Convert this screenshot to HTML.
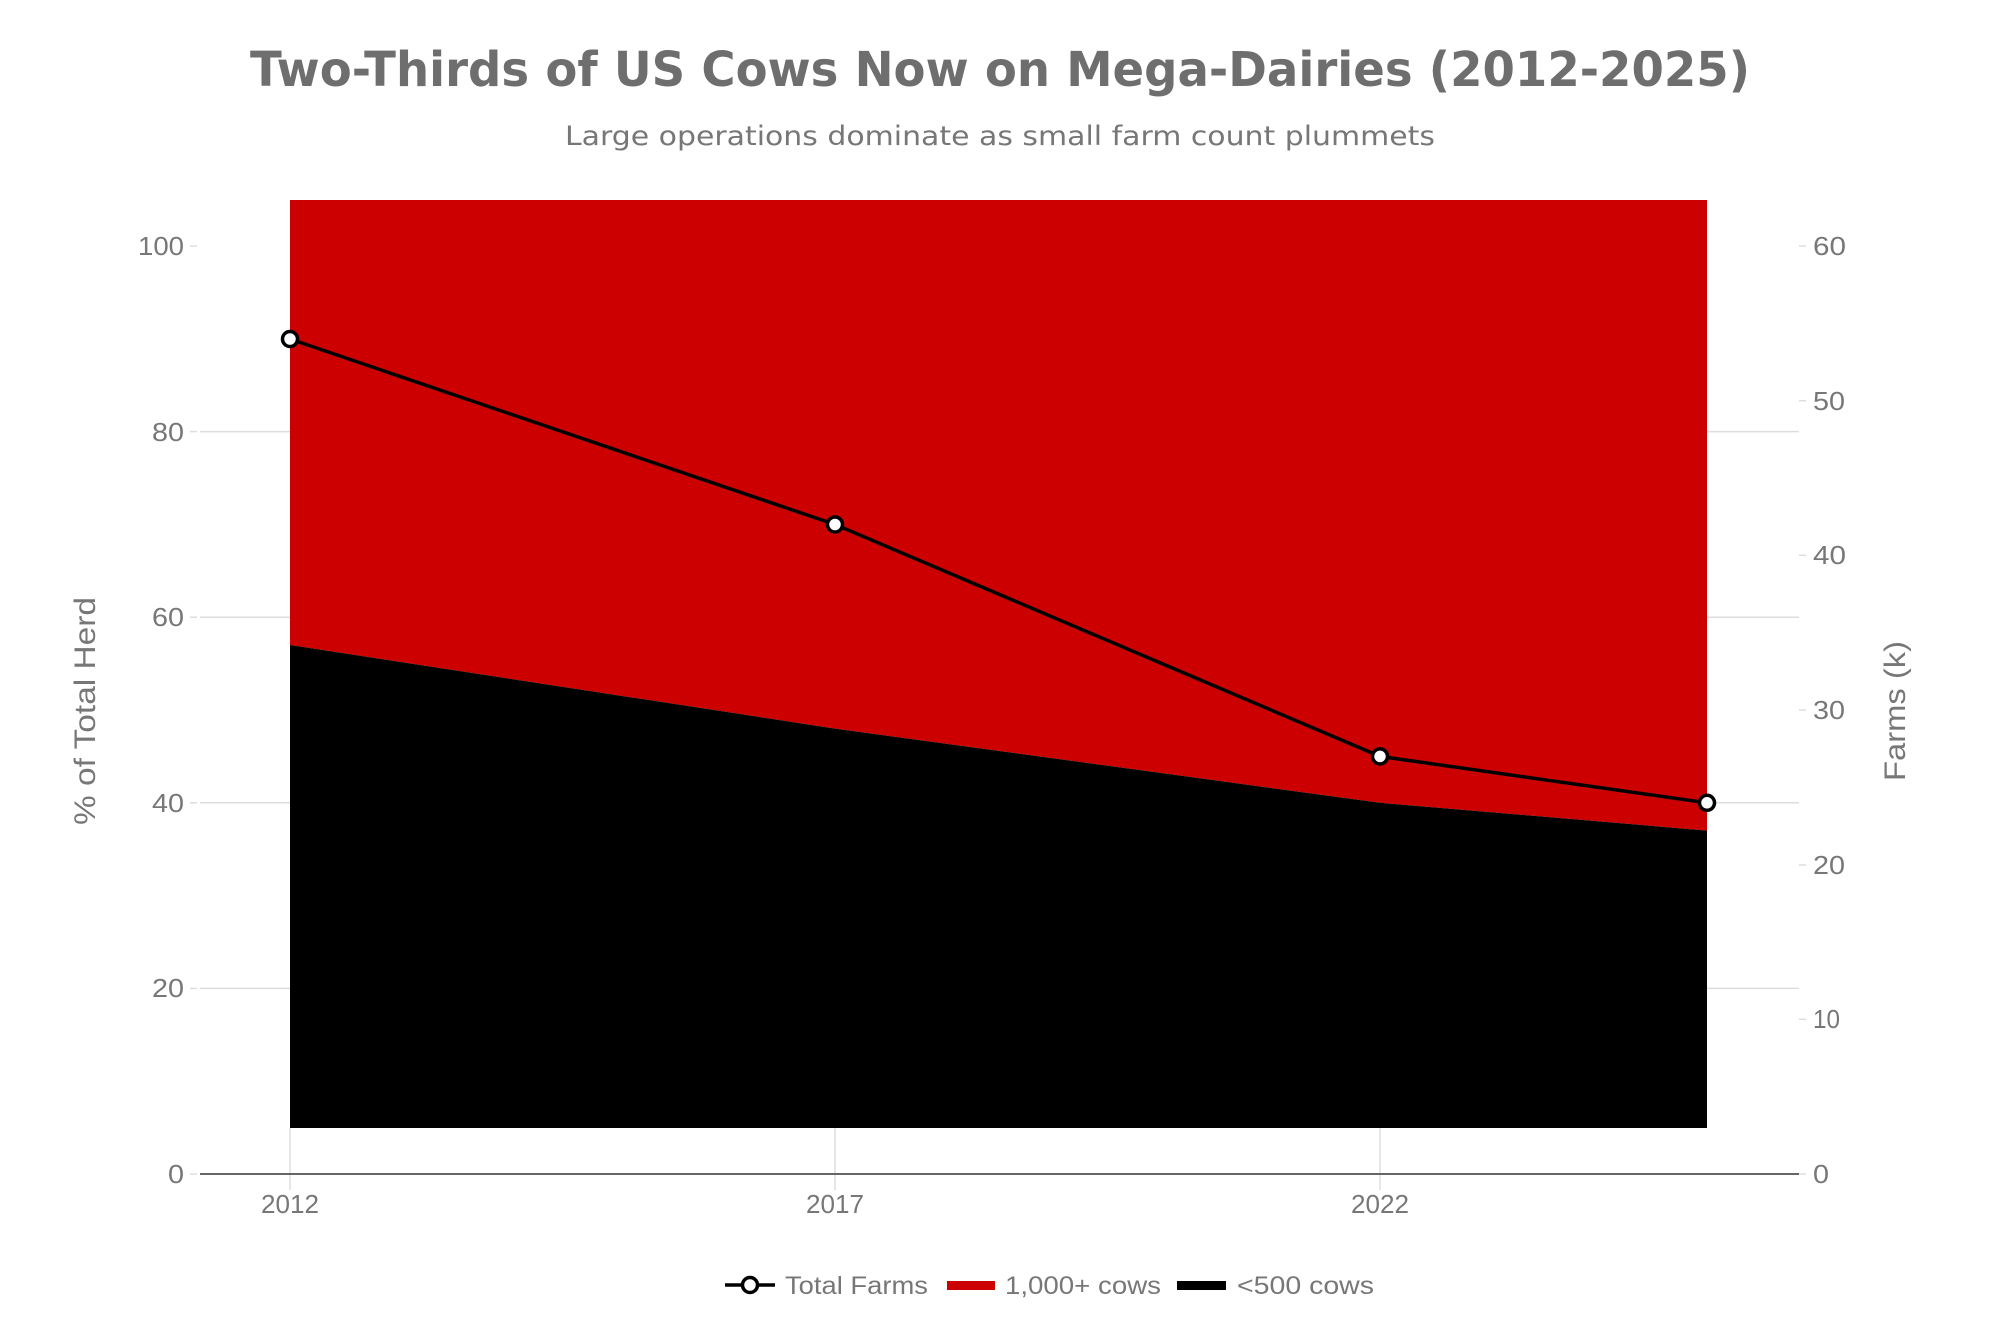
<!DOCTYPE html>
<html><head><meta charset="utf-8"><style>html,body{margin:0;padding:0;background:#fff}svg{display:block}</style></head>
<body>
<svg width="2000" height="1333" viewBox="0 0 2000 1333" xmlns="http://www.w3.org/2000/svg" font-family="'Liberation Sans', sans-serif">
<rect width="2000" height="1333" fill="#fff"/>
<text x="1000" y="86" text-anchor="middle" font-family="'DejaVu Sans', sans-serif" font-weight="bold" font-size="48" fill="#6e6e6e" textLength="1500" lengthAdjust="spacingAndGlyphs">Two-Thirds of US Cows Now on Mega-Dairies (2012-2025)</text>
<text x="1000" y="145" text-anchor="middle" font-family="'DejaVu Sans', sans-serif" font-size="27" fill="#777" textLength="870" lengthAdjust="spacingAndGlyphs">Large operations dominate as small farm count plummets</text>
<g stroke="#ddd" stroke-width="1.5">
<line x1="200" x2="1799" y1="988.4" y2="988.4"/>
<line x1="200" x2="1799" y1="802.8" y2="802.8"/>
<line x1="200" x2="1799" y1="617.2" y2="617.2"/>
<line x1="200" x2="1799" y1="431.6" y2="431.6"/>
<line x1="290" x2="290" y1="1128" y2="1190"/>
<line x1="835" x2="835" y1="1128" y2="1190"/>
<line x1="1380" x2="1380" y1="1128" y2="1190"/>
<line x1="190" x2="197" y1="1174" y2="1174"/><line x1="190" x2="197" y1="988.4" y2="988.4"/><line x1="190" x2="197" y1="802.8" y2="802.8"/><line x1="190" x2="197" y1="617.2" y2="617.2"/><line x1="190" x2="197" y1="431.6" y2="431.6"/><line x1="190" x2="197" y1="246" y2="246"/>
<line x1="1799" x2="1806" y1="1174" y2="1174"/><line x1="1799" x2="1806" y1="1019.3" y2="1019.3"/><line x1="1799" x2="1806" y1="865" y2="865"/><line x1="1799" x2="1806" y1="710" y2="710"/><line x1="1799" x2="1806" y1="555.3" y2="555.3"/><line x1="1799" x2="1806" y1="400.7" y2="400.7"/><line x1="1799" x2="1806" y1="246" y2="246"/>
</g>
<polygon points="290,200 1707,200 1707,830.6 1380,802.8 835,728.6 290,645" fill="#cc0000"/>
<polygon points="290,645 835,728.6 1380,802.8 1707,830.6 1707,1128 290,1128" fill="#000"/>
<line x1="200" x2="1799" y1="1174" y2="1174" stroke="#666" stroke-width="2"/>
<polyline points="290,339 835,524.5 1380,756.4 1707,802.8" fill="none" stroke="#000" stroke-width="3.5"/>
<g fill="#fff" stroke="#000" stroke-width="3.5">
<circle cx="290" cy="339" r="7.5"/><circle cx="835" cy="524.5" r="7.5"/><circle cx="1380" cy="756.4" r="7.5"/><circle cx="1707" cy="802.8" r="7.5"/>
</g>
<g font-size="26" fill="#777" text-anchor="end">
<text x="184" y="1183" textLength="16" lengthAdjust="spacingAndGlyphs">0</text>
<text x="184" y="997" textLength="32" lengthAdjust="spacingAndGlyphs">20</text>
<text x="184" y="812" textLength="32" lengthAdjust="spacingAndGlyphs">40</text>
<text x="184" y="626" textLength="32" lengthAdjust="spacingAndGlyphs">60</text>
<text x="184" y="441" textLength="32" lengthAdjust="spacingAndGlyphs">80</text>
<text x="184" y="255" textLength="46" lengthAdjust="spacingAndGlyphs">100</text>
</g>
<g font-size="26" fill="#777">
<text x="1813" y="1183" textLength="16" lengthAdjust="spacingAndGlyphs">0</text>
<text x="1813" y="1028" textLength="27" lengthAdjust="spacingAndGlyphs">10</text>
<text x="1813" y="874" textLength="32" lengthAdjust="spacingAndGlyphs">20</text>
<text x="1813" y="719" textLength="32" lengthAdjust="spacingAndGlyphs">30</text>
<text x="1813" y="564" textLength="33" lengthAdjust="spacingAndGlyphs">40</text>
<text x="1813" y="410" textLength="32" lengthAdjust="spacingAndGlyphs">50</text>
<text x="1813" y="255" textLength="33" lengthAdjust="spacingAndGlyphs">60</text>
</g>
<g font-size="26" fill="#777" text-anchor="middle">
<text x="290" y="1213" textLength="58" lengthAdjust="spacingAndGlyphs">2012</text>
<text x="835" y="1213" textLength="58" lengthAdjust="spacingAndGlyphs">2017</text>
<text x="1380" y="1213" textLength="58" lengthAdjust="spacingAndGlyphs">2022</text>
</g>
<text transform="translate(95,711) rotate(-90)" text-anchor="middle" font-size="30" fill="#777" textLength="228" lengthAdjust="spacingAndGlyphs">% of Total Herd</text>
<text transform="translate(1905,711) rotate(-90)" text-anchor="middle" font-size="30" fill="#777" textLength="140" lengthAdjust="spacingAndGlyphs">Farms (k)</text>
<g font-size="25" fill="#777">
<line x1="725" x2="775" y1="1285" y2="1285" stroke="#000" stroke-width="3.5"/>
<circle cx="750" cy="1285" r="7.5" fill="#fff" stroke="#000" stroke-width="3.5"/>
<text x="785" y="1294" textLength="143" lengthAdjust="spacingAndGlyphs">Total Farms</text>
<rect x="947" y="1281" width="48" height="9" fill="#cc0000"/>
<text x="1005" y="1294" textLength="156" lengthAdjust="spacingAndGlyphs">1,000+ cows</text>
<rect x="1177" y="1281" width="49" height="9" fill="#000"/>
<text x="1237" y="1294" textLength="137" lengthAdjust="spacingAndGlyphs">&lt;500 cows</text>
</g>
</svg>
</body></html>
